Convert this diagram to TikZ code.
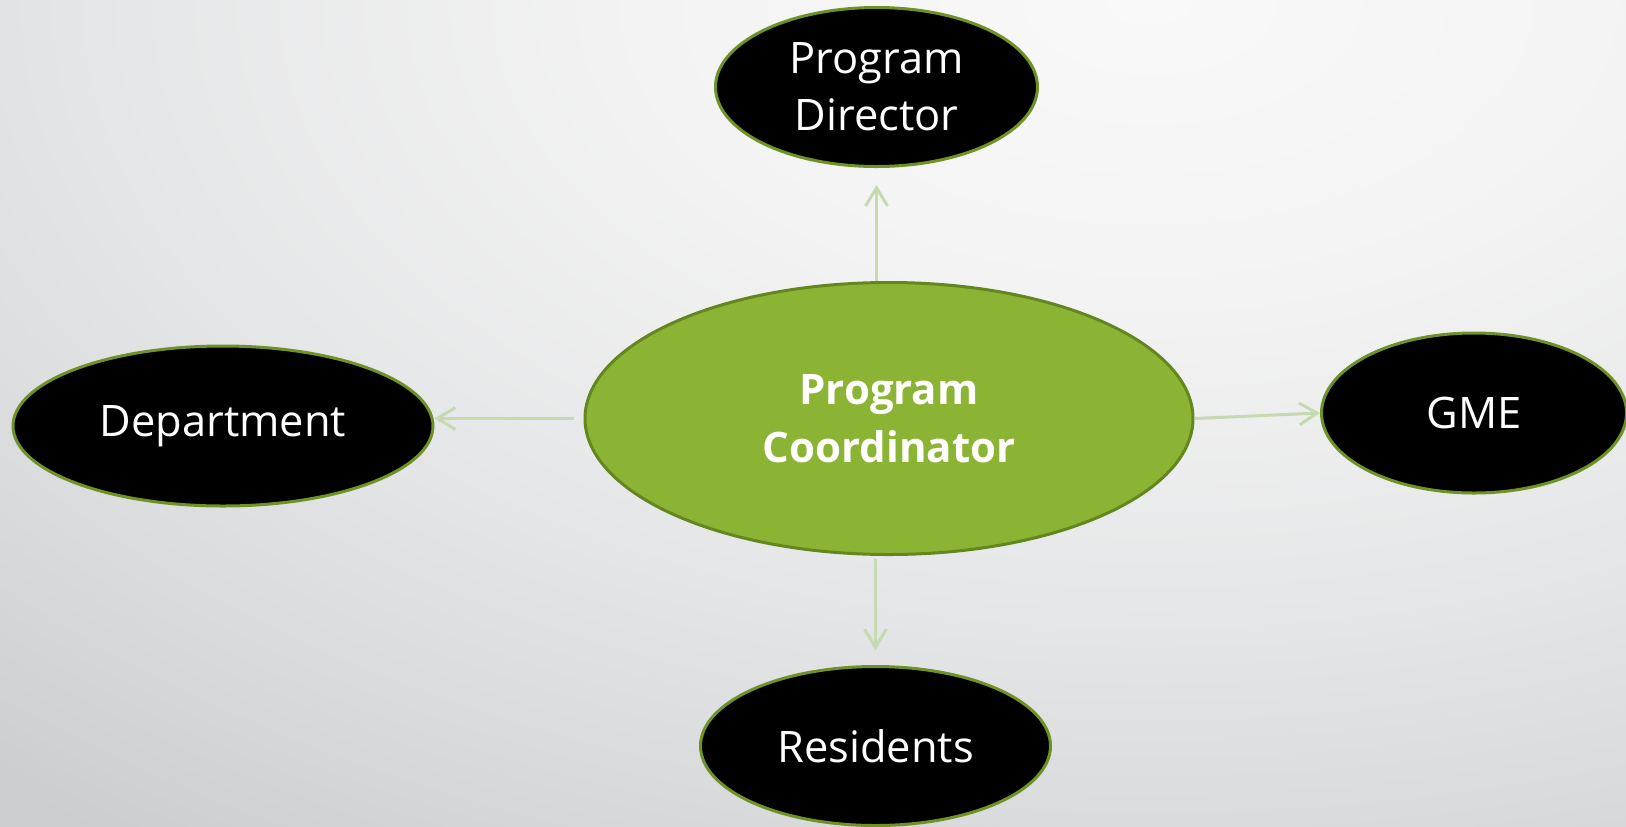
\documentclass[tikz,border=0pt]{standalone}
\usepackage{fontspec}
\setmainfont{Open Sans}
\usetikzlibrary{arrows.meta,shapes.geometric}
\definecolor{bgA}{HTML}{F9F9F9}
\definecolor{bgB}{HTML}{F3F3F3}
\definecolor{bgC}{HTML}{E6E7E8}
\definecolor{bgD}{HTML}{D8DADB}
\definecolor{bgE}{HTML}{CBCED0}
\definecolor{pcfill}{HTML}{8CB434}
\definecolor{pcborder}{HTML}{64861F}
\definecolor{nodeborder}{HTML}{6F9125}
\definecolor{arrowgreen}{HTML}{C5DAB0}
\pgfdeclareradialshading{bgshade}{\pgfpoint{0bp}{0bp}}{color(0bp)=(bgA); color(7.5bp)=(bgB); color(15bp)=(bgC); color(21bp)=(bgD); color(26bp)=(bgE); color(50bp)=(bgE)}
\tikzset{
  blackoval/.style={ellipse, fill=black, draw=nodeborder, line width=1.5pt,
    text=white, align=center, inner sep=0pt,
    font=\fontsize{21.7}{28.5}\selectfont},
  centeroval/.style={ellipse, fill=pcfill, draw=pcborder, line width=1.5pt,
    text=white, align=center, inner sep=0pt,
    font=\fontsize{21}{29}\selectfont\bfseries},
  conn/.style={draw=arrowgreen, line width=1.5pt,
    -{Straight Barb[length=9pt,width=11pt,line width=1.5pt]}}
}
\begin{document}
\begin{tikzpicture}[x=0.5pt,y=-0.5pt]
  \useasboundingbox (0,0) rectangle (1626,826);
  \begin{scope}
    \clip (0,0) rectangle (1626,826);
    \shade[shading=bgshade] (-550,-1000) rectangle (2850,1000);
  \end{scope}

  \node[centeroval, minimum width=304pt, minimum height=136pt] (PC) at (889,418.5) {Program\\Coordinator};
  \node[blackoval, minimum width=161pt, minimum height=79.5pt] (PD) at (876.5,87) {Program\\Director};
  \node[blackoval, minimum width=210pt, minimum height=80pt] (Dept) at (223,426) {Department};
  \node[blackoval, minimum width=152.5pt, minimum height=80pt] (GME) at (1474,413) {GME};
  \node[blackoval, minimum width=175pt, minimum height=79.5pt] (Res) at (875.5,746) {Residents};

  \draw[conn, shorten >=8.5pt] (PC.north -| PD.south) -- (PD.south);
  \draw[conn, shorten <=1.5pt, shorten >=7.5pt] (PC.south -| Res.north) -- (Res.north);
  \draw[conn, shorten <=5pt] (PC.west) -- (PC.west -| Dept.east);
  \draw[conn] (PC.east) -- (GME.west);
\end{tikzpicture}
\end{document}
